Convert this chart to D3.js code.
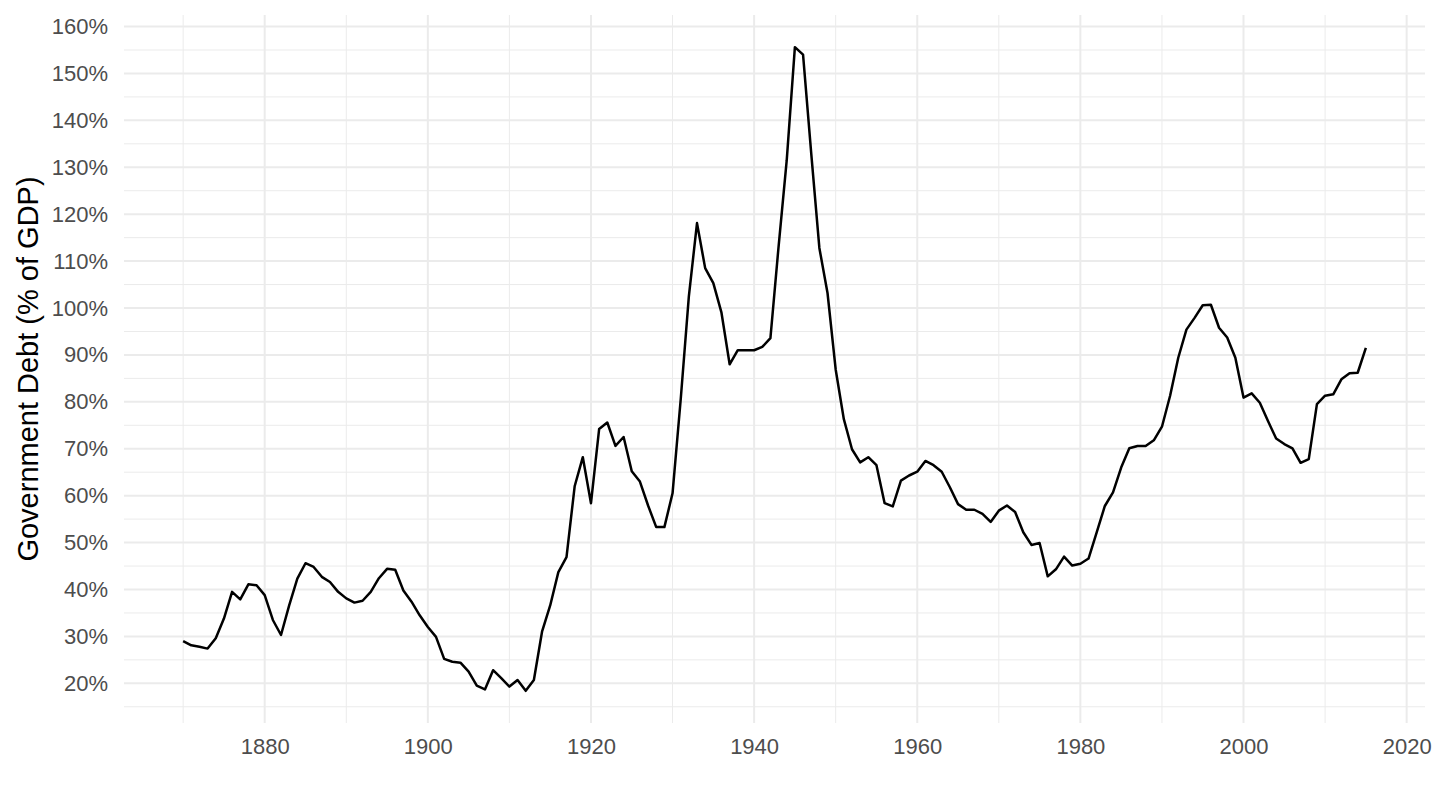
<!DOCTYPE html>
<html>
<head>
<meta charset="utf-8">
<script src="https://cdn.jsdelivr.net/npm/d3@7"></script>
<style>
  body { margin: 0; background: #fff; }
  svg { display: block; }
</style>
</head>
<body>
<div id="chart"></div>
<script>
// years on the x axis
const years = [
  1870, 1871, 1872, 1873, 1874, 1875, 1876, 1877, 1878, 1879,
  1880, 1881, 1882, 1883, 1884, 1885, 1886, 1887, 1888, 1889,
  1890, 1891, 1892, 1893, 1894, 1895, 1896, 1897, 1898, 1899,
  1900, 1901, 1902, 1903, 1904, 1905, 1906, 1907, 1908, 1909,
  1910, 1911, 1912, 1913, 1914, 1915, 1916, 1917, 1918, 1919,
  1920, 1921, 1922, 1923, 1924, 1925, 1926, 1927, 1928, 1929,
  1930, 1931, 1932, 1933, 1934, 1935, 1936, 1937, 1938, 1939,
  1940, 1941, 1942, 1943, 1944, 1945, 1946, 1947, 1948, 1949,
  1950, 1951, 1952, 1953, 1954, 1955, 1956, 1957, 1958, 1959,
  1960, 1961, 1962, 1963, 1964, 1965, 1966, 1967, 1968, 1969,
  1970, 1971, 1972, 1973, 1974, 1975, 1976, 1977, 1978, 1979,
  1980, 1981, 1982, 1983, 1984, 1985, 1986, 1987, 1988, 1989,
  1990, 1991, 1992, 1993, 1994, 1995, 1996, 1997, 1998, 1999,
  2000, 2001, 2002, 2003, 2004, 2005, 2006, 2007, 2008, 2009,
  2010, 2011, 2012, 2013, 2014, 2015
];

// government debt, % of GDP
const debt = [
  29.0, 28.1, 27.8, 27.4, 29.6, 33.8, 39.5, 37.9, 41.1, 40.9,
  38.8, 33.5, 30.3, 36.6, 42.3, 45.6, 44.8, 42.7, 41.6, 39.5,
  38.1, 37.2, 37.6, 39.5, 42.4, 44.4, 44.2, 39.8, 37.4, 34.5,
  32.0, 29.9, 25.2, 24.6, 24.4, 22.5, 19.5, 18.7, 22.8, 21.1,
  19.3, 20.7, 18.4, 20.7, 31.0, 36.6, 43.7, 46.9, 62.0, 68.2,
  58.4, 74.2, 75.6, 70.6, 72.5, 65.2, 63.0, 57.9, 53.3, 53.3,
  60.5, 80.5, 102.5, 118.1, 108.5, 105.3, 99.0, 88.0, 91.0, 91.0,
  91.0, 91.7, 93.6, 113.1, 131.5, 155.6, 154.0, 133.0, 112.8, 103.2,
  86.9, 76.3, 69.9, 67.1, 68.2, 66.5, 58.4, 57.7, 63.2, 64.3,
  65.1, 67.4, 66.5, 65.1, 61.8, 58.2, 57.0, 57.0, 56.1, 54.4,
  56.8, 57.9, 56.5, 52.2, 49.5, 49.9, 42.8, 44.3, 47.0, 45.1,
  45.5, 46.6, 52.2, 57.8, 60.7, 66.0, 70.1, 70.6, 70.6, 71.8,
  74.7, 81.3, 89.4, 95.4, 97.9, 100.6, 100.7, 95.8, 93.7, 89.4,
  80.9, 81.8, 79.8, 75.9, 72.2, 71.0, 70.1, 67.0, 67.8, 79.5,
  81.3, 81.6, 84.8, 86.1, 86.2, 91.5
];

// tick values
const xMajor = [1880, 1900, 1920, 1940, 1960, 1980, 2000, 2020];
const xMinor = [1870, 1890, 1910, 1930, 1950, 1970, 1990, 2010];
const yMajor = [20, 30, 40, 50, 60, 70, 80, 90, 100, 110, 120, 130, 140, 150, 160];
const yMinor = [15, 25, 35, 45, 55, 65, 75, 85, 95, 105, 115, 125, 135, 145, 155];

const W = 1440, H = 810;
const margin = { top: 15, right: 15, bottom: 87, left: 124 };
const width = W - margin.left - margin.right,
      height = H - margin.top - margin.bottom;

const font = "'Liberation Sans', Arial, Helvetica, sans-serif";

const data = years.map((y, i) => ({ year: y, value: debt[i] }));

const svg = d3.select("#chart")
  .append("svg")
  .attr("width", W)
  .attr("height", H)
  .append("g")
  .attr("transform", `translate(${margin.left},${margin.top})`);

// ggplot style 5% expansion of the data range
const xExt = d3.extent(years), yExt = d3.extent(debt);
const xPad = (xExt[1] - xExt[0]) * 0.05, yPad = (yExt[1] - yExt[0]) * 0.05;

const x = d3.scaleLinear().domain([xExt[0] - xPad, xExt[1] + xPad]).range([0, width]);
const y = d3.scaleLinear().domain([yExt[0] - yPad, yExt[1] + yPad]).range([height, 0]);

// grid lines
const grid = svg.append("g").attr("stroke", "#EBEBEB").attr("fill", "none");

grid.selectAll("line.ymin").data(yMinor).enter().append("line")
  .attr("x1", 0).attr("x2", width)
  .attr("y1", d => y(d)).attr("y2", d => y(d))
  .attr("stroke-width", 1);

grid.selectAll("line.xmin").data(xMinor).enter().append("line")
  .attr("y1", 0).attr("y2", height)
  .attr("x1", d => x(d)).attr("x2", d => x(d))
  .attr("stroke-width", 1);

grid.selectAll("line.ymaj").data(yMajor).enter().append("line")
  .attr("x1", 0).attr("x2", width)
  .attr("y1", d => y(d)).attr("y2", d => y(d))
  .attr("stroke-width", 2);

grid.selectAll("line.xmaj").data(xMajor).enter().append("line")
  .attr("y1", 0).attr("y2", height)
  .attr("x1", d => x(d)).attr("x2", d => x(d))
  .attr("stroke-width", 2);

// axes (labels only, ggplot minimal has no ticks or domain line)
const xAxis = svg.append("g")
  .attr("transform", `translate(0,${height})`)
  .call(d3.axisBottom(x).tickValues(xMajor).tickFormat(d3.format("d")).tickSize(0).tickPadding(15));

const yAxis = svg.append("g")
  .call(d3.axisLeft(y).tickValues(yMajor).tickFormat(d => d + "%").tickSize(0).tickPadding(16));

[xAxis, yAxis].forEach(a => {
  a.select(".domain").remove();
  a.selectAll("text")
    .attr("font-family", font)
    .attr("font-size", "22px")
    .attr("fill", "#4D4D4D");
});

// the line
svg.append("path")
  .datum(data)
  .attr("fill", "none")
  .attr("stroke", "#000")
  .attr("stroke-width", 2.5)
  .attr("stroke-linejoin", "round")
  .attr("d", d3.line().x(d => x(d.year)).y(d => y(d.value)));

// y axis title
svg.append("text")
  .attr("transform", `translate(${28 - margin.left},${height / 2}) rotate(-90)`)
  .attr("text-anchor", "middle")
  .attr("dominant-baseline", "central")
  .attr("font-family", font)
  .attr("font-size", "29px")
  .attr("fill", "#000")
  .text("Government Debt (% of GDP)");
</script>
</body>
</html>
